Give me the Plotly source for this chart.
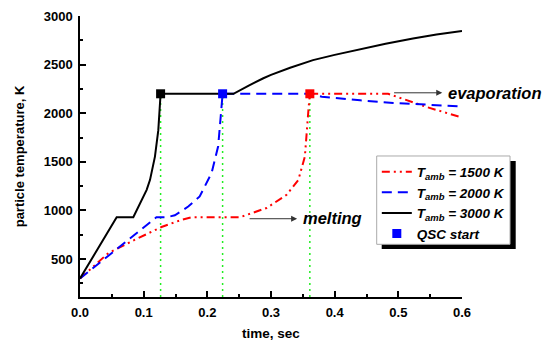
import plotly.graph_objects as go

# ---- data ----
t_1500 = [0, 0.02, 0.0445, 0.0863, 0.128, 0.16, 0.175, 0.251, 0.27, 0.293, 0.3245, 0.343, 0.3532, 0.357, 0.359, 0.361, 0.484, 0.544, 0.6]
T_1500 = [300, 420, 562, 699, 830, 905, 930, 930, 975, 1025, 1161, 1315, 1554, 1826, 2050, 2200, 2200, 2065, 1955]

t_2000 = [0, 0.12, 0.136, 0.149, 0.17, 0.188, 0.2067, 0.217, 0.2214, 0.2232, 0.224, 0.36, 0.38, 0.44, 0.492, 0.6]
T_2000 = [300, 930, 930, 950, 1040, 1144, 1386, 1660, 1997, 2120, 2200, 2200, 2170, 2133, 2106, 2070]

t_3000 = [0, 0.0576, 0.0837, 0.094, 0.1047, 0.11, 0.1177, 0.123, 0.1256, 0.1266, 0.241, 0.25, 0.265,
          0.288, 0.3, 0.33, 0.366, 0.4, 0.445, 0.48, 0.523, 0.56, 0.6]
T_3000 = [300, 930, 930, 1076, 1212, 1315, 1554, 1826, 2133, 2200, 2200, 2233, 2285,
          2360, 2395, 2468, 2546, 2600, 2666, 2715, 2768, 2810, 2846]

qsc_t = [0.1266, 0.224, 0.361]
qsc_T = [2200, 2200, 2200]
qsc_colors = ["black", "blue", "red"]

y_min = 110
names = ["<b><i>T<sub>amb</sub> = 1500 K</i></b>",
         "<b><i>T<sub>amb</sub> = 2000 K</i></b>",
         "<b><i>T<sub>amb</sub> = 3000 K</i></b>",
         "<b><i>QSC start</i></b>"]

FONT = "Liberation Sans, Arial, sans-serif"
fig = go.Figure()

# green dotted verticals at QSC start times
for tq, Tq in zip(qsc_t, qsc_T):
    fig.add_trace(go.Scatter(x=[tq, tq], y=[y_min, Tq], mode="lines",
                             line=dict(color="#22ee22", width=1.5, dash="2px,4px"),
                             showlegend=False, hoverinfo="skip"))

fig.add_trace(go.Scatter(x=t_1500, y=T_1500, mode="lines", name=names[0],
                         line=dict(color="red", width=2, dash="8px,4px,2px,4px,2px,4px")))
fig.add_trace(go.Scatter(x=t_2000, y=T_2000, mode="lines", name=names[1],
                         line=dict(color="blue", width=2, dash="10px,6px")))
fig.add_trace(go.Scatter(x=t_3000, y=T_3000, mode="lines", name=names[2],
                         line=dict(color="black", width=2)))

# QSC markers
fig.add_trace(go.Scatter(x=[qsc_t[0]], y=[qsc_T[0]], mode="markers", showlegend=False,
                         marker=dict(symbol="square", size=9, color=qsc_colors[0])))
fig.add_trace(go.Scatter(x=[qsc_t[2]], y=[qsc_T[2]], mode="markers", showlegend=False,
                         marker=dict(symbol="square", size=9, color=qsc_colors[2])))
fig.add_trace(go.Scatter(x=[qsc_t[1]], y=[qsc_T[1]], mode="markers", name=names[3],
                         marker=dict(symbol="square", size=9, color=qsc_colors[1])))

# arrows + labels
arrow_kw = dict(showarrow=True, arrowhead=2, arrowsize=1.2, arrowwidth=1,
                arrowcolor="#333333", axref="x", ayref="y", text="")
fig.add_annotation(x=0.569, y=2210, ax=0.491, ay=2210, **arrow_kw)
fig.add_annotation(x=0.341, y=915, ax=0.264, ay=915, **arrow_kw)
fig.add_annotation(x=0.575, y=2212, text="<b><i>evaporation</i></b>", showarrow=False,
                   xanchor="left", yanchor="middle", font=dict(size=16.5, color="black", family=FONT))
fig.add_annotation(x=0.347, y=927, text="<b><i>melting</i></b>", showarrow=False,
                   xanchor="left", yanchor="middle", font=dict(size=16.5, color="black", family=FONT))

# legend frame: shadow + white box
fig.add_shape(type="rect", xref="paper", yref="paper",
              x0=0.7898, x1=1.1406, y0=0.1708, y1=0.484,
              fillcolor="black", line=dict(width=0), layer="above")
fig.add_shape(type="rect", xref="paper", yref="paper",
              x0=0.7767, x1=1.1257, y0=0.1875, y1=0.5018,
              fillcolor="white", line=dict(width=1, color="#aaaaaa"), layer="above")

axis_common = dict(showline=True, linecolor="black", linewidth=1.5, ticks="inside",
                   ticklen=6, tickwidth=1.5, tickcolor="black", showgrid=False, zeroline=False,
                   tickfont=dict(size=13, family=FONT, color="black"), mirror=False,
                   automargin=False)

fig.update_layout(
    width=545, height=341,
    margin=dict(l=80, r=83, t=16, b=44),
    plot_bgcolor="white", paper_bgcolor="white",
    font=dict(family=FONT, color="black"),
    showlegend=True,
    legend=dict(x=0.777, y=0.500, xanchor="left", yanchor="top",
                bgcolor="rgba(0,0,0,0)", borderwidth=0,
                font=dict(size=13.5, family=FONT, color="black"), tracegroupgap=0),
    xaxis=dict(range=[0, 0.6], dtick=0.1, tick0=0, tickformat=".1f", ticklabelstandoff=3,
               minor=dict(dtick=0.05, ticks="inside", ticklen=3, tickwidth=1.5, tickcolor="black"),
               title=dict(text="<b>time, sec</b>", font=dict(size=13.5, family=FONT), standoff=20),
               **axis_common),
    yaxis=dict(range=[y_min, 3000], dtick=500, tick0=0, ticklabelstandoff=3,
               minor=dict(dtick=250, ticks="inside", ticklen=3, tickwidth=1.5, tickcolor="black"),
               title=dict(text="<b>particle temperature, K</b>", font=dict(size=13, family=FONT), standoff=16),
               **axis_common),
)
fig.update_xaxes(tickprefix="<b>", ticksuffix="</b>")
fig.update_yaxes(tickprefix="<b>", ticksuffix="</b>")

fig.write_html("out.html")
